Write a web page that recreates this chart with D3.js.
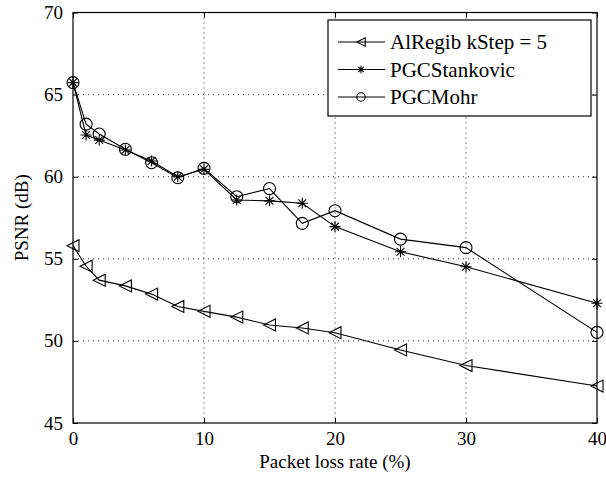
<!DOCTYPE html>
<html>
<head>
<meta charset="utf-8">
<script src="https://cdn.jsdelivr.net/npm/d3@7/dist/d3.min.js"></script>
<style>
  html, body { margin: 0; padding: 0; background: #fff; }
  svg { display: block; }
  svg text { font-family: "Liberation Serif", "Times New Roman", serif; fill: #000; }
</style>
</head>
<body>
<svg id="chart" width="606" height="480"></svg>
<script>
// Packet loss rate (%) at which each method was evaluated
const lossRates = [0, 1, 2, 4, 6, 8, 10, 12.5, 15, 17.5, 20, 25, 30, 40];

// PSNR (dB) per method
const alRegib    = [55.8, 54.55, 53.7, 53.35, 52.85, 52.1, 51.8, 51.45, 50.97, 50.79, 50.5, 49.45, 48.5, 47.25];
const stankovic  = [65.73, 62.54, 62.23, 61.63, 60.96, 60.0, 60.45, 58.58, 58.53, 58.38, 56.96, 55.43, 54.52, 52.29];
const mohr       = [65.73, 63.2, 62.6, 61.67, 60.85, 59.94, 60.51, 58.78, 59.28, 57.16, 57.93, 56.2, 55.68, 50.52];

const seriesNames = ["AlRegib kStep = 5", "PGCStankovic", "PGCMohr"];
const markerKinds = ["triangle", "star", "circle"];

const xTicks = [0, 10, 20, 30, 40];
const yTicks = [45, 50, 55, 60, 65, 70];

const xLabel = "Packet loss rate (%)";
const yLabel = "PSNR (dB)";

const FONT = "Liberation Serif";

const series = [alRegib, stankovic, mohr].map((vals, i) => ({
  name: seriesNames[i],
  marker: markerKinds[i],
  points: vals.map((v, j) => ({ x: lossRates[j], y: v }))
}));

const svg = d3.select("#chart");
const plot = { left: 73, right: 597, top: 12.5, bottom: 423 };

const x = d3.scaleLinear().domain([0, 40]).range([plot.left, plot.right]);
const y = d3.scaleLinear().domain([45, 70]).range([plot.bottom, plot.top]);

// dotted grid
const grid = svg.append("g");
grid.selectAll("line.gx").data(xTicks.slice(1, -1)).join("line")
  .attr("x1", d => x(d)).attr("x2", d => x(d))
  .attr("y1", plot.top).attr("y2", plot.bottom)
  .attr("stroke", "#222").attr("stroke-width", 1).attr("stroke-dasharray", "1,4");
grid.selectAll("line.gy").data(yTicks.slice(1, -1)).join("line")
  .attr("x1", plot.left).attr("x2", plot.right)
  .attr("y1", d => y(d)).attr("y2", d => y(d))
  .attr("stroke", "#222").attr("stroke-width", 1).attr("stroke-dasharray", "1,4");

// axes with inward ticks on all four sides
const tick = 5;
const axBottom = d3.axisBottom(x).tickValues(xTicks).tickSize(-tick).tickPadding(9).tickFormat(d3.format("d"));
const axTop = d3.axisTop(x).tickValues(xTicks).tickSize(-tick).tickFormat("");
const axLeft = d3.axisLeft(y).tickValues(yTicks).tickSize(-tick).tickPadding(10).tickFormat(d3.format("d"));
const axRight = d3.axisRight(y).tickValues(yTicks).tickSize(-tick).tickFormat("");

function styleAxis(g) {
  g.attr("font-family", FONT).attr("font-size", 19);
  g.select(".domain").remove();
  g.selectAll(".tick line").attr("stroke", "#000").attr("stroke-width", 1);
  g.selectAll(".tick text").attr("font-size", 19).attr("font-family", FONT);
}

svg.append("g").attr("transform", `translate(0,${plot.bottom})`).call(axBottom).call(styleAxis);
svg.append("g").attr("transform", `translate(0,${plot.top})`).call(axTop).call(styleAxis);
svg.append("g").attr("transform", `translate(${plot.left},0)`).call(axLeft).call(styleAxis);
svg.append("g").attr("transform", `translate(${plot.right},0)`).call(axRight).call(styleAxis);

svg.append("rect")
  .attr("x", plot.left).attr("y", plot.top)
  .attr("width", plot.right - plot.left).attr("height", plot.bottom - plot.top)
  .attr("fill", "none").attr("stroke", "#000").attr("stroke-width", 1.2);

// marker shapes
function drawMarker(g, kind, cx, cy, scale) {
  const s = scale || 1;
  if (kind === "triangle") {
    const h = 6 * s;
    g.append("path")
      .attr("d", `M${cx - h},${cy} L${cx + h},${cy - h} L${cx + h},${cy + h} Z`)
      .attr("fill", "none").attr("stroke", "#000").attr("stroke-width", 1.1);
  } else if (kind === "circle") {
    g.append("circle").attr("cx", cx).attr("cy", cy).attr("r", 6 * s)
      .attr("fill", "none").attr("stroke", "#000").attr("stroke-width", 1.1);
  } else if (kind === "star") {
    const r = 5.5 * s;
    const d = r * Math.SQRT1_2;
    g.append("path")
      .attr("d", `M${cx - r},${cy} L${cx + r},${cy} M${cx},${cy - r} L${cx},${cy + r} ` +
                 `M${cx - d},${cy - d} L${cx + d},${cy + d} M${cx - d},${cy + d} L${cx + d},${cy - d}`)
      .attr("stroke", "#000").attr("stroke-width", 1.1).attr("fill", "none");
  }
}

const line = d3.line().x(d => x(d.x)).y(d => y(d.y));
const marks = svg.append("g");
series.forEach(s => {
  marks.append("path").datum(s.points).attr("d", line)
    .attr("fill", "none").attr("stroke", "#000").attr("stroke-width", 1.1);
  s.points.forEach(p => drawMarker(marks, s.marker, x(p.x), y(p.y), 1));
});

// legend
const lg = svg.append("g");
const box = { x: 328, y: 20, w: 263, h: 96 };
lg.append("rect").attr("x", box.x).attr("y", box.y).attr("width", box.w).attr("height", box.h)
  .attr("fill", "#fff").attr("stroke", "#000").attr("stroke-width", 1.2);
series.forEach((s, i) => {
  const cy = box.y + 22 + i * 27.5;
  lg.append("line").attr("x1", box.x + 10).attr("x2", box.x + 57).attr("y1", cy).attr("y2", cy)
    .attr("stroke", "#000").attr("stroke-width", 1.1);
  drawMarker(lg, s.marker, box.x + 33, cy, 0.7);
  lg.append("text").attr("x", box.x + 62).attr("y", cy).attr("dy", "0.35em")
    .attr("font-family", FONT).attr("font-size", 21).text(s.name);
});

// axis titles
svg.append("text").attr("x", (plot.left + plot.right) / 2).attr("y", 468)
  .attr("font-family", FONT).attr("text-anchor", "middle").attr("font-size", 19).text(xLabel);
svg.append("text")
  .attr("transform", `translate(28,${(plot.top + plot.bottom) / 2}) rotate(-90)`)
  .attr("font-family", FONT).attr("text-anchor", "middle").attr("font-size", 19).text(yLabel);
</script>
</body>
</html>
